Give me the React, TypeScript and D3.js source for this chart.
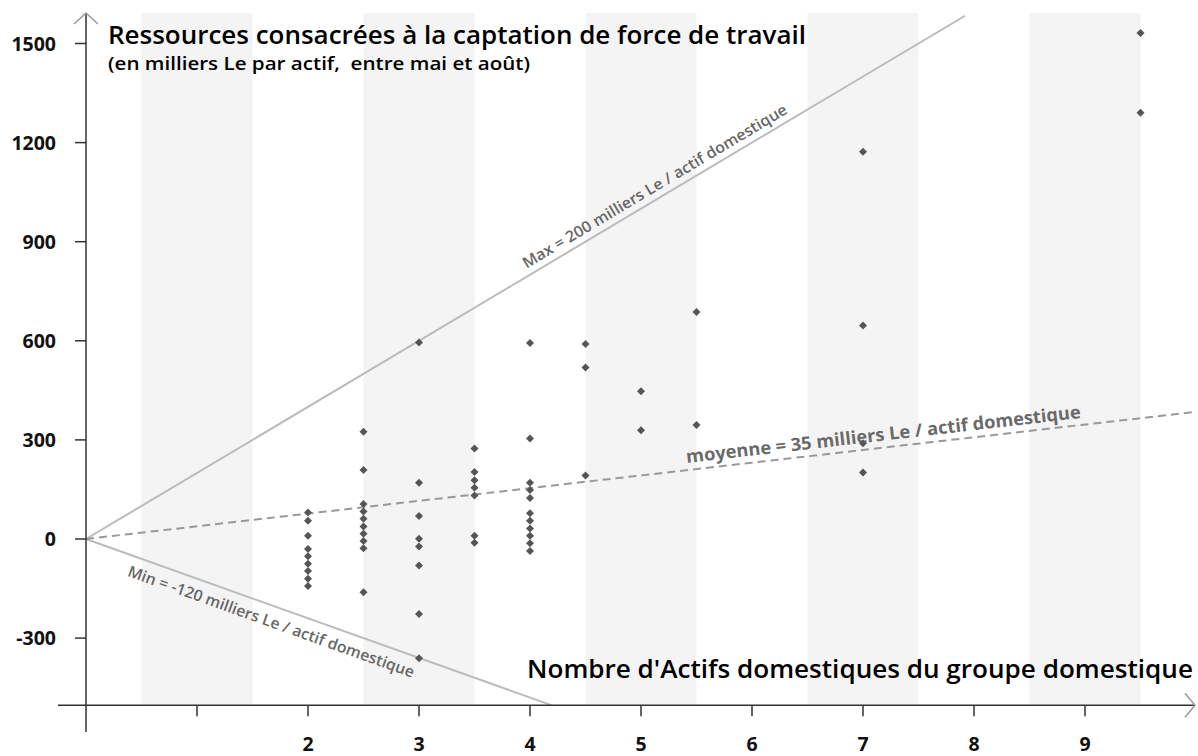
import React from "react";
import * as d3 from "d3";

// ---- data ----
const bandCenters = [1, 3, 5, 7, 9];
const xTickValues = [1, 2, 3, 4, 5, 6, 7, 8, 9];
const xTickLabels = ["", "2", "3", "4", "5", "6", "7", "8", "9"];
const yTickValues = [-300, 0, 300, 600, 900, 1200, 1500];

const actifs2 = [80, 55, 10, -30, -52, -75, -97, -120, -142];
const actifs25 = [325, 209, 106, 83, 61, 38, 16, -6, -28, -161];
const actifs3 = [595, 170, 70, 1, -23, -80, -227, -361];
const actifs35 = [274, 203, 178, 155, 132, 10, -11];
const actifs4 = [593, 304, 170, 148, 124, 78, 55, 32, 10, -13, -36];
const actifs45 = [590, 519, 192];
const actifs5 = [447, 329];
const actifs55 = [687, 345];
const actifs7 = [1172, 646, 290, 201];
const actifs95 = [1532, 1290];

const groupX = [2, 2.5, 3, 3.5, 4, 4.5, 5, 5.5, 7, 9.5];
const groupY = [actifs2, actifs25, actifs3, actifs35, actifs4, actifs45, actifs5, actifs55, actifs7, actifs95];

const maxSlope = 200;
const minSlope = -120;
const meanSlopeDrawn = 38.5;
const maxEndX = 7.92;
const meanEndX = 10;
const xAxisValue = -503;

const title = "Ressources consacrées à la captation de force de travail";
const subtitle = "(en milliers Le par actif,  entre mai et août)";
const xTitle = "Nombre d'Actifs domestiques du groupe domestique";
const maxLabel = "Max = 200 milliers Le / actif domestique";
const meanLabel = "moyenne = 35 milliers Le / actif domestique";
const minLabel = "Min = -120 milliers Le / actif domestique";

export default function App() {
  const W = 1198, H = 756;
  const x = d3.scaleLinear().domain([0, 10]).range([86, 1196]);
  const y = d3.scaleLinear().domain([0, 1500]).range([539, 43.5]);
  const axisY = y(xAxisValue);
  const x0 = x(0), y0 = y(0);
  const topY = 13;

  const angle = (s: number) =>
    (Math.atan2(y(s) - y(0), x(1) - x(0)) * 180) / Math.PI;

  const minEndX = xAxisValue / minSlope;

  const points: { px: number; py: number }[] = [];
  groupX.forEach((gx, i) => {
    groupY[i].forEach((v) => points.push({ px: x(gx), py: y(v) }));
  });

  const diamond = d3.symbol().type(d3.symbolSquare).size(32)();
  const font = "'Open Sans', 'Noto Sans', sans-serif";

  const labelAt = (lx: number, slope: number, dy: number, text: string, size: number, weight: number, fill: string, len: number) => (
    <g transform={`translate(${x(lx)},${y(slope * lx)}) rotate(${angle(slope)})`}>
      <text y={dy} fontSize={size} fontWeight={weight} fill={fill} fontFamily={font} textLength={len} lengthAdjust="spacingAndGlyphs">
        {text}
      </text>
    </g>
  );

  return (
    <svg width={W} height={H} style={{ position: "absolute", left: 0, top: 0, background: "#fff" }}>
      {bandCenters.map((b) => (
        <rect key={b} x={x(b - 0.5)} y={topY} width={x(b + 0.5) - x(b - 0.5)} height={axisY - topY} fill="#f4f4f4" />
      ))}

      {/* guide lines */}
      <line x1={x0} y1={y0} x2={x(maxEndX)} y2={y(maxSlope * maxEndX)} stroke="#bbbbbb" strokeWidth={2} />
      <line x1={x0} y1={y0} x2={x(minEndX)} y2={y(minSlope * minEndX)} stroke="#bbbbbb" strokeWidth={2} />
      <line x1={x0} y1={y0} x2={x(meanEndX)} y2={y(meanSlopeDrawn * meanEndX)} stroke="#999999" strokeWidth={2} strokeDasharray="8,5" />

      {labelAt(4.0, maxSlope, -7, maxLabel, 15.5, 600, "#666", 305)}
      {labelAt(5.42, meanSlopeDrawn, -7, meanLabel, 18, 700, "#6a6a6a", 397)}
      {labelAt(0.43, minSlope, 21, minLabel, 15.5, 600, "#666", 303)}

      {/* points */}
      {points.map((p, i) => (
        <path key={i} d={diamond as string} transform={`translate(${p.px},${p.py}) rotate(45)`} fill="#555" />
      ))}

      {/* axes */}
      <line x1={58} y1={axisY} x2={1195} y2={axisY} stroke="#333" strokeWidth={1.5} />
      <line x1={x0} y1={topY} x2={x0} y2={732} stroke="#333" strokeWidth={1.5} />
      <path d={`M${x0 - 12},${topY + 11} L${x0},${topY} L${x0 + 12},${topY + 11}`} fill="none" stroke="#999" strokeWidth={1.5} />
      <path d={`M1185,${axisY - 12} L1195,${axisY} L1185,${axisY + 12}`} fill="none" stroke="#999" strokeWidth={1.5} />

      {xTickValues.map((t, i) => (
        <g key={t}>
          <line x1={x(t)} y1={axisY} x2={x(t)} y2={axisY + 11} stroke="#333" strokeWidth={1.5} />
          <text x={x(t)} y={751} textAnchor="middle" fontSize={19.5} fontWeight={700} fontFamily={font} fill="#111">
            {xTickLabels[i]}
          </text>
        </g>
      ))}
      {yTickValues.map((t) => (
        <g key={t}>
          <line x1={x0 - 11} y1={y(t)} x2={x0} y2={y(t)} stroke="#333" strokeWidth={1.5} />
          <text x={56} y={y(t)} dy="0.36em" textAnchor="end" fontSize={19.5} fontWeight={700} fontFamily={font} fill="#111">
            {t}
          </text>
        </g>
      ))}

      {/* titles */}
      <text x={108} y={44} fontSize={24.5} fontWeight={600} fontFamily={font} fill="#000" textLength={698} lengthAdjust="spacingAndGlyphs">{title}</text>
      <text x={108} y={70} fontSize={17.5} fontWeight={600} fontFamily={font} fill="#000" textLength={422} lengthAdjust="spacingAndGlyphs" style={{ whiteSpace: "pre" }}>{subtitle}</text>
      <text x={1193} y={678} textAnchor="end" fontSize={24.5} fontWeight={600} fontFamily={font} fill="#000" textLength={666} lengthAdjust="spacingAndGlyphs">{xTitle}</text>
    </svg>
  );
}
